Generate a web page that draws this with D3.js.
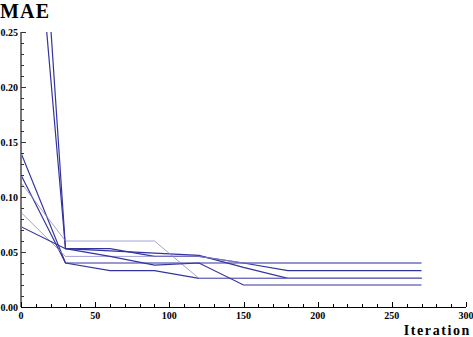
<!DOCTYPE html>
<html><head><meta charset="utf-8">
<script src="https://cdn.jsdelivr.net/npm/d3@7"></script>
<style>body{margin:0;background:#fff}svg{display:block}</style>
</head><body>
<svg id="c" width="473" height="337"></svg>
<script>
const iterations = [0, 30, 60, 90, 120, 150, 180, 270];
const s1 = [0.66, 0.053, 0.053, 0.046, 0.046, 0.040, 0.033, 0.033];
const s2 = [0.52, 0.053, 0.051, 0.049, 0.047, 0.036, 0.026, 0.026];
const s3 = [0.140, 0.040, 0.040, 0.040, 0.040, 0.040, 0.040, 0.040];
const s4 = [0.120, 0.040, 0.033, 0.033, 0.026, 0.026, 0.026, 0.026];
const s5 = [0.113, 0.060, 0.060, 0.060, 0.026, 0.026, 0.026, 0.026];
const s6 = [0.086, 0.046, 0.046, 0.046, 0.046, 0.040, 0.040, 0.040];
const s7 = [0.073, 0.053, 0.046, 0.038, 0.040, 0.020, 0.020, 0.020];
const seriesList = [s1, s2, s3, s4, s5, s6, s7];
const thinFlags = [false, false, false, false, true, true, false];
const xTicks = [0, 50, 100, 150, 200, 250, 300];
const yTicks = [0.00, 0.05, 0.10, 0.15, 0.20, 0.25];

const svg = d3.select("#c");
const x = d3.scaleLinear().domain([0, 300]).range([21, 466]);
const y = d3.scaleLinear().domain([0, 0.25]).range([307, 32]);

svg.append("clipPath").attr("id","clip").append("rect")
  .attr("x", 21).attr("y", 32).attr("width", 445).attr("height", 275);

const line = d3.line().x((d,i)=>x(iterations[i])).y(d=>y(d));
const g = svg.append("g").attr("clip-path","url(#clip)");
seriesList.forEach((s,k)=>{
  g.append("path").attr("d", line(s)).attr("fill","none")
   .attr("stroke", thinFlags[k] ? "#8a8acc" : "#34349e")
   .attr("stroke-width", thinFlags[k] ? 0.8 : 1.2);
});

// y axis
const ya = svg.append("g").attr("transform","translate(21,0)");
ya.append("line").attr("x1",0).attr("x2",0).attr("y1",y(0)).attr("y2",y(0.25)).attr("stroke","#777").attr("stroke-width",2);
d3.range(0, 26).forEach(i=>{
  const v = i/100, major = i%5===0;
  ya.append("line").attr("x1",0).attr("x2", major?5:3).attr("y1",Math.round(y(v))+0.5).attr("y2",Math.round(y(v))+0.5).attr("stroke","#333").attr("stroke-width",1);
});
yTicks.forEach(v=>{
  ya.append("text").attr("x",-3).attr("y",y(v)+3.5).attr("text-anchor","end")
    .attr("font-family","Liberation Serif").attr("font-weight","bold").attr("font-size",10)
    .text(d3.format(".2f")(v));
});

// x axis
const xa = svg.append("g");
xa.append("line").attr("x1",x(0)).attr("x2",x(300)).attr("y1",307.5).attr("y2",307.5).attr("stroke","#000").attr("stroke-width",1.2);
d3.range(0, 31).forEach(i=>{
  const v = i*10, major = i%5===0;
  xa.append("line").attr("x1",Math.round(x(v))+0.5).attr("x2",Math.round(x(v))+0.5).attr("y1",307).attr("y2", major?302:304).attr("stroke","#000").attr("stroke-width",1);
});
xTicks.forEach(v=>{
  xa.append("text").attr("x",x(v)).attr("y",319).attr("text-anchor","middle")
    .attr("font-family","Liberation Serif").attr("font-weight","bold").attr("font-size",10)
    .text(v);
});

svg.append("text").attr("x",0).attr("y",18).attr("font-family","Liberation Serif").attr("font-weight","bold").attr("font-size",20).attr("letter-spacing",1.2).text("MAE");
svg.append("text").attr("x",471).attr("y",335).attr("text-anchor","end").attr("font-family","Liberation Serif").attr("font-weight","bold").attr("font-size",14).attr("letter-spacing",1.6).text("Iteration");
</script>
</body></html>
